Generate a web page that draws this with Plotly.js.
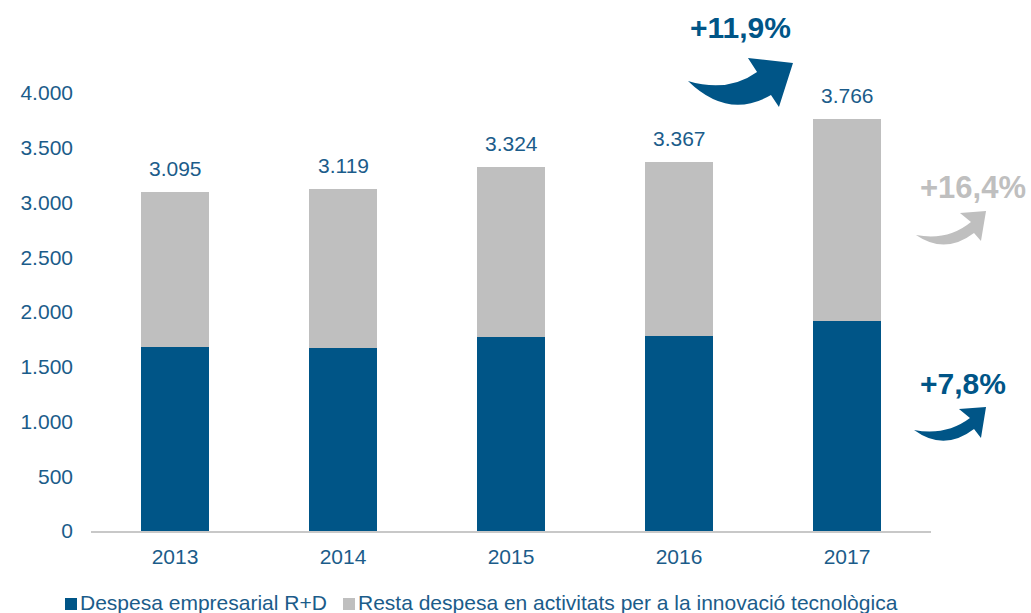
<!DOCTYPE html>
<html>
<head>
<meta charset="utf-8">
<script src="https://cdn.plot.ly/plotly-3.0.1.min.js"></script>
<style>html,body{margin:0;padding:0;background:#fff;}#chart{width:1031px;height:613px;}</style>
</head>
<body>
<div id="chart"></div>
<script>
// ---- data ----
const years = ['2013', '2014', '2015', '2016', '2017'];
const rdSpend = [1680, 1671, 1775, 1781, 1918];        // Despesa empresarial R+D
const totals = [3095, 3119, 3324, 3367, 3766];         // total labels
const restSpend = totals.map((t, i) => t - rdSpend[i]); // Resta despesa ...
const seriesNames = ['Despesa empresarial R+D', 'Resta despesa en activitats per a la innovació tecnològica'];
const growthLabels = ['+11,9%', '+16,4%', '+7,8%'];
const yTicks = [0, 500, 1000, 1500, 2000, 2500, 3000, 3500, 4000];

// ---- style ----
const BLUE = '#005587';
const GREY = '#bfbfbf';
const TXT = '#1b5c8a';
const FONT = 'Liberation Sans, Arial, sans-serif';

function fmt(n) { return String(n).replace(/\B(?=(\d{3})+(?!\d))/g, '.'); }

// plot area in pixels (for decorations)
const L = 91, R = 931, T = 93, B = 531;
function px(x) { return (x - L) / (R - L); }
function py(y) { return (B - y) / (B - T); }
function path(cmds) {
  return cmds.map(c => {
    const op = c[0];
    const pts = [];
    for (let i = 1; i < c.length; i += 2) pts.push(px(c[i]).toFixed(4) + ',' + py(c[i + 1]).toFixed(4));
    return op + ' ' + pts.join(' ');
  }).join(' ') + ' Z';
}

const traces = [
  { type: 'bar', x: years, y: rdSpend, name: seriesNames[0], marker: { color: BLUE }, hoverinfo: 'skip' },
  { type: 'bar', x: years, y: restSpend, name: seriesNames[1], marker: { color: GREY }, hoverinfo: 'skip' }
];

const annotations = years.map((yr, i) => ({
  x: i, y: totals[i], xref: 'x', yref: 'y', text: fmt(totals[i]),
  showarrow: false, yanchor: 'bottom', yshift: 10,
  font: { family: FONT, size: 21, color: TXT }
}));

// growth labels
annotations.push({ xref: 'paper', yref: 'paper', x: px(740), y: py(27), text: '<b>' + growthLabels[0] + '</b>',
  showarrow: false, xanchor: 'center', yanchor: 'middle', font: { family: FONT, size: 30, color: BLUE } });
annotations.push({ xref: 'paper', yref: 'paper', x: px(973), y: py(187), text: '<b>' + growthLabels[1] + '</b>',
  showarrow: false, xanchor: 'center', yanchor: 'middle', font: { family: FONT, size: 31, color: GREY } });
annotations.push({ xref: 'paper', yref: 'paper', x: px(963), y: py(383), text: '<b>' + growthLabels[2] + '</b>',
  showarrow: false, xanchor: 'center', yanchor: 'middle', font: { family: FONT, size: 30, color: BLUE } });

// custom legend
annotations.push({ xref: 'paper', yref: 'paper', x: px(79), y: py(602), text: seriesNames[0], borderpad: 0,
  showarrow: false, xanchor: 'left', yanchor: 'middle', font: { family: FONT, size: 21, color: TXT } });
annotations.push({ xref: 'paper', yref: 'paper', x: px(357), y: py(602), text: seriesNames[1], borderpad: 0,
  showarrow: false, xanchor: 'left', yanchor: 'middle', font: { family: FONT, size: 21, color: TXT } });

const shapes = [
  // big blue arrow
  { type: 'path', xref: 'paper', yref: 'paper', fillcolor: BLUE, line: { width: 0 },
    path: path([['M', 688, 81], ['Q', 728, 93, 757, 72], ['L', 748, 58], ['L', 793, 63], ['L', 779, 107], ['L', 771, 95], ['Q', 728, 120, 688, 81]]) },
  // grey arrow
  { type: 'path', xref: 'paper', yref: 'paper', fillcolor: GREY, line: { width: 0 },
    path: path([['M', 916, 235], ['Q', 948, 241, 971, 222], ['L', 960, 213], ['L', 986, 211], ['L', 981, 241], ['L', 974, 233], ['Q', 945, 255, 916, 235]]) },
  // small blue arrow
  { type: 'path', xref: 'paper', yref: 'paper', fillcolor: BLUE, line: { width: 0 },
    path: path([['M', 914, 430], ['Q', 946, 436, 970, 418], ['L', 959, 409], ['L', 986, 407], ['L', 981, 438], ['L', 974, 429], ['Q', 944, 452, 914, 430]]) },
  // legend squares
  { type: 'rect', xref: 'paper', yref: 'paper', x0: px(65), x1: px(77), y0: py(610), y1: py(598), fillcolor: BLUE, line: { width: 0 } },
  { type: 'rect', xref: 'paper', yref: 'paper', x0: px(343), x1: px(355), y0: py(610), y1: py(598), fillcolor: GREY, line: { width: 0 } }
];

const layout = {
  width: 1031, height: 613,
  margin: { l: L, r: 1031 - R, t: T, b: 613 - B, pad: 0 },
  paper_bgcolor: '#ffffff', plot_bgcolor: '#ffffff',
  barmode: 'stack', bargap: 0.6,
  separators: ',.',
  showlegend: false,
  font: { family: FONT, size: 21, color: TXT },
  xaxis: {
    type: 'category', range: [-0.5, 4.5], showgrid: false, zeroline: false,
    showline: true, linecolor: '#c8c8c8', linewidth: 2,
    ticks: '', ticklabelstandoff: 6,
    tickfont: { family: FONT, size: 21, color: TXT }
  },
  yaxis: {
    range: [0, 4000], tickvals: yTicks, ticktext: yTicks.map(fmt),
    showgrid: false, zeroline: false, showline: false, ticks: '',
    ticklabelstandoff: 17,
    tickfont: { family: FONT, size: 21, color: TXT }
  },
  annotations: annotations,
  shapes: shapes
};

Plotly.newPlot('chart', traces, layout, { displayModeBar: false, staticPlot: true });
</script>
</body>
</html>
